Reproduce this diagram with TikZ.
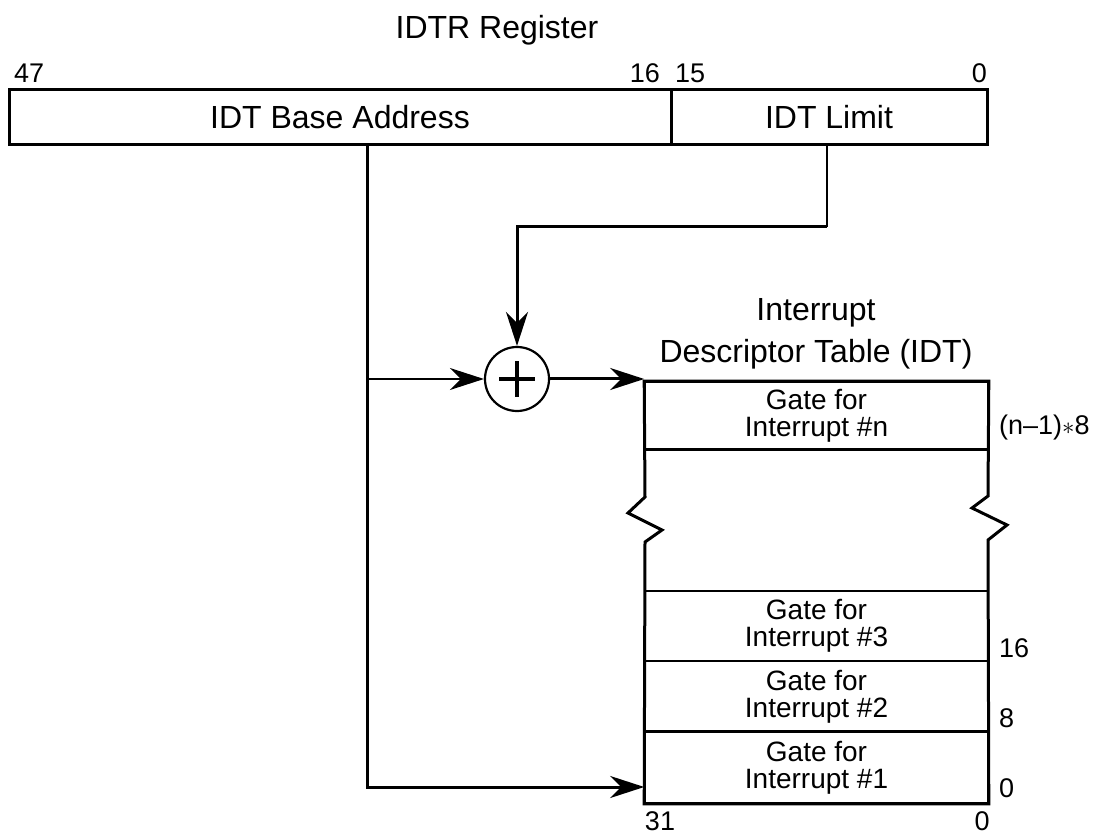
\documentclass[tikz,border=0pt]{standalone}
\usepackage{fontspec}
\setmainfont{Liberation Sans}
\usetikzlibrary{arrows.meta}
\begin{document}
\begin{tikzpicture}[x=1pt,y=-1pt,
  thk/.style={line width=3pt},
  thn/.style={line width=1.6pt},
  arr/.style={-{Stealth[length=34pt,width=22pt,inset=11pt]}},
  big/.style={font=\fontsize{32}{42}\selectfont, align=center},
  num/.style={font=\fontsize{27}{32}\selectfont, inner sep=0pt},
  gate/.style={font=\fontsize{28}{27}\selectfont, align=center},
  reg/.style={draw, thk, minimum height=55pt, inner sep=0pt, font=\fontsize{32}{38}\selectfont},
  row/.style={draw, thn, minimum width=343pt, inner sep=0pt, gate},
]
\useasboundingbox (0,0) rectangle (1101,834);

% IDTR register
\node[big] (title) at (497,30) {IDTR Register};
\node[reg, minimum width=662pt] (base) at (340,117.5) {IDT Base Address};
\node[reg, minimum width=316pt] (limit) at (829,117.5) {IDT Limit};
\node[num, anchor=west] (b47) at (14,73) {47};
\node[num, anchor=east] (b16) at (660,73) {16};
\node[num, anchor=west] (b15) at (675,73) {15};
\node[num, anchor=east] (b0) at (987,73) {0};

% adder
\node[draw, circle, line width=2.2pt, minimum size=64pt, inner sep=0pt] (sum) at (517,379) {};
\draw[line width=3.4pt] ([xshift=-18pt]sum.center) -- ([xshift=18pt]sum.center);
\draw[line width=3.4pt] ([yshift=-18pt]sum.center) -- ([yshift=18pt]sum.center);

% IDT
\node[big] (idt) at (816,334) {Interrupt\\Descriptor Table (IDT)};
\node[row, minimum height=67pt] (rown) at (816.5,415.5) {Gate for\\Interrupt \#n};
\node[row, minimum height=70pt] (row3) at (816.5,626) {Gate for\\Interrupt \#3};
\node[row, minimum height=71pt] (row2) at (816.5,696.5) {Gate for\\Interrupt \#2};
\node[row, minimum height=71pt] (row1) at (816.5,767.5) {Gate for\\Interrupt \#1};

% thick outline with breaks
\draw[thk] (rown.south west) -- (rown.south east);
\draw[thk] (row1.north west) -- (row1.north east);
\draw[thk, line join=miter] (rown.north east) -- (rown.north west) -- (645,497) -- (628,513) -- (662,530) -- (645,542)
   -- (row1.south west) -- (row1.south east) -- (988,540) -- (1007,525) -- (972,508) -- (988,496) -- cycle;

% offsets
\node[num, anchor=west] (on) at (999,428) {(n–1)$\ast$8};
\node[num, anchor=west] (o16) at (999,648) {16};
\node[num, anchor=west] (o8) at (999,718) {8};
\node[num, anchor=west] (o0) at (999,788) {0};
\node[num] (t31) at (660,821) {31};
\node[num] (t0) at (982,821) {0};

% connectors
\coordinate (bx) at ([xshift=27pt]base.south);
\coordinate (lx) at ([xshift=-2pt]limit.south);
\coordinate (turn) at (0,227);
\coordinate (low) at (0,787);
\draw[thk, arr] (bx) |- (low -| row1.west);
\draw[thn, arr] (bx |- sum.west) -- (sum.west);
\draw[thn] (lx) -- (lx |- turn);
\draw[thk, arr] (lx |- turn) -| (sum.north);
\draw[thk, arr] (sum.east) -- (sum.east -| rown.west);
\end{tikzpicture}
\end{document}
